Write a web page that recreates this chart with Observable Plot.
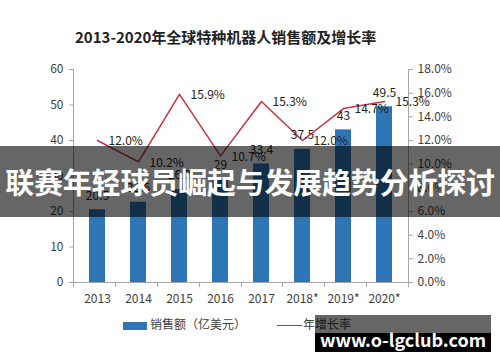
<!DOCTYPE html>
<html>
<head>
<meta charset="utf-8">
<script src="https://cdn.jsdelivr.net/npm/d3@7"></script>
<script src="https://cdn.jsdelivr.net/npm/@observablehq/plot@0.6"></script>
<style>
  html, body { margin: 0; padding: 0; background: #fff; }
  #wrap { position: relative; width: 500px; height: 362px; overflow: hidden; font-family: "Noto Sans CJK SC", "Noto Sans", sans-serif; }
  #chart { position: absolute; left: 0; top: 0; }
  #title { position: absolute; left: 75px; top: 26px; font-size: 15px; font-weight: bold; color: #222; white-space: nowrap; line-height: 22px; }
  .legend { position: absolute; top: 316px; font-size: 12px; color: #404040; white-space: nowrap; line-height: 16px; }
  .legend .sw { display: inline-block; vertical-align: middle; margin-right: 3px; }
  #banner { position: absolute; left: 0; top: 146px; width: 500px; height: 71px; background: rgba(0,0,0,0.6); color: #fff; font-weight: bold; font-size: 29px; line-height: 71px; text-align: center; white-space: nowrap; letter-spacing: -0.2px; }
  #mark { position: absolute; left: 315px; top: 315px; width: 176px; height: 37px;
    background: linear-gradient(to bottom, rgba(0,0,0,0.6) 0px, rgba(0,0,0,0.6) 18px, #000 18px, #000 37px);
    color: #fff; font-weight: bold; font-size: 18px; text-align: center; line-height: 20px; white-space: nowrap; }
  #mark span { position: absolute; left: 0; right: 0; top: 14px; }
</style>
</head>
<body>
<div id="wrap">
  <div id="chart"></div>
  <div id="title"></div>
  <div class="legend" id="leg1" style="left:123px"></div>
  <div class="legend" id="leg2" style="left:277px"></div>
  <div id="banner"></div>
  <div id="mark"><span></span></div>
</div>
<script>
const years = ["2013", "2014", "2015", "2016", "2017", "2018*", "2019*", "2020*"];
const sales = [20.5, 22.6, 26.2, 29, 33.4, 37.5, 43, 49.5];
const growth = [12.0, 10.2, 15.9, 10.7, 15.3, 12.0, 14.7, 15.3];
const leftTicks = [0, 10, 20, 30, 40, 50, 60];
const rightTicks = [0, 2, 4, 6, 8, 10, 12, 14, 16, 18];
const titleText = "2013-2020年全球特种机器人销售额及增长率";
const seriesNames = ["销售额（亿美元）", "年增长率"];
const bannerText = "联赛年轻球员崛起与发展趋势分析探讨";
const markText = "www.o-lgclub.com";

const barColor = "#2e75b6";
const lineColor = "#c8323f";
const axisColor = "#a6a6a6";
const textColor = "#404040";
const yMax = 60, pMax = 18;
const toLeft = p => p * yMax / pMax;

const rows = years.map((y, i) => ({year: y, sales: sales[i], growth: growth[i], gy: toLeft(growth[i])}));

function axisLines(index, scales, values, dims) {
  const {width, height, marginLeft, marginRight, marginTop, marginBottom} = dims;
  const x0 = marginLeft, x1 = width - marginRight, yb = height - marginBottom, yt = marginTop;
  const g = d3.create("svg:g").attr("stroke", axisColor).attr("stroke-width", 1).attr("fill", "none");
  g.append("line").attr("x1", x0 + 0.5).attr("x2", x0 + 0.5).attr("y1", yt).attr("y2", yb);
  g.append("line").attr("x1", x1 + 0.5).attr("x2", x1 + 0.5).attr("y1", yt).attr("y2", yb);
  g.append("line").attr("x1", x0).attr("x2", x1).attr("y1", yb + 0.5).attr("y2", yb + 0.5);
  const step = (x1 - x0) / years.length;
  for (let i = 0; i <= years.length; i++) {
    const xx = Math.round(x0 + i * step) + 0.5;
    g.append("line").attr("x1", xx).attr("x2", xx).attr("y1", yb).attr("y2", yb + 5);
  }
  return g.node();
}

const plot = Plot.plot({
  width: 500,
  height: 362,
  marginTop: 69,
  marginRight: 92,
  marginBottom: 80,
  marginLeft: 73,
  style: {fontFamily: "'Noto Sans CJK SC', 'Noto Sans', sans-serif", fontSize: "12px", color: textColor, background: "transparent"},
  x: {domain: years, paddingInner: 0.62, paddingOuter: 0.31},
  y: {domain: [0, yMax]},
  marks: [
    Plot.barY(rows, {x: "year", y: "sales", fill: barColor}),
    Plot.axisY({anchor: "left", ticks: leftTicks, tickSize: 4, tickPadding: 6, stroke: axisColor, fill: textColor, fontSize: 12, label: null}),
    Plot.axisY({anchor: "right", ticks: rightTicks.map(toLeft), tickFormat: d => (d * pMax / yMax).toFixed(1) + "%", tickSize: 4, tickPadding: 5, stroke: axisColor, fill: textColor, fontSize: 12, label: null}),
    Plot.axisX({anchor: "bottom", tickSize: 0, tickPadding: 12, fill: textColor, fontSize: 12, label: null}),
    axisLines,
    Plot.lineY(rows, {x: "year", y: "gy", stroke: lineColor, strokeWidth: 1.5}),
    Plot.text(rows, {x: "year", y: "sales", text: d => String(d.sales), dy: -14, fill: "#222", fontSize: 12}),
    Plot.text(rows, {x: "year", y: "gy", text: d => d.growth.toFixed(1) + "%", dx: 11, dy: 1, textAnchor: "start", fill: "#222", fontSize: 12})
  ]
});
document.getElementById("chart").appendChild(plot);

document.getElementById("title").textContent = titleText;
document.getElementById("leg1").innerHTML = `<span class="sw" style="width:24px;height:8px;background:${barColor}"></span>${seriesNames[0]}`;
document.getElementById("leg2").innerHTML = `<span class="sw" style="width:25px;height:1.5px;background:${lineColor};margin-right:1px"></span>${seriesNames[1]}`;
document.getElementById("banner").textContent = bannerText;
document.querySelector("#mark span").textContent = markText;
</script>
</body>
</html>
